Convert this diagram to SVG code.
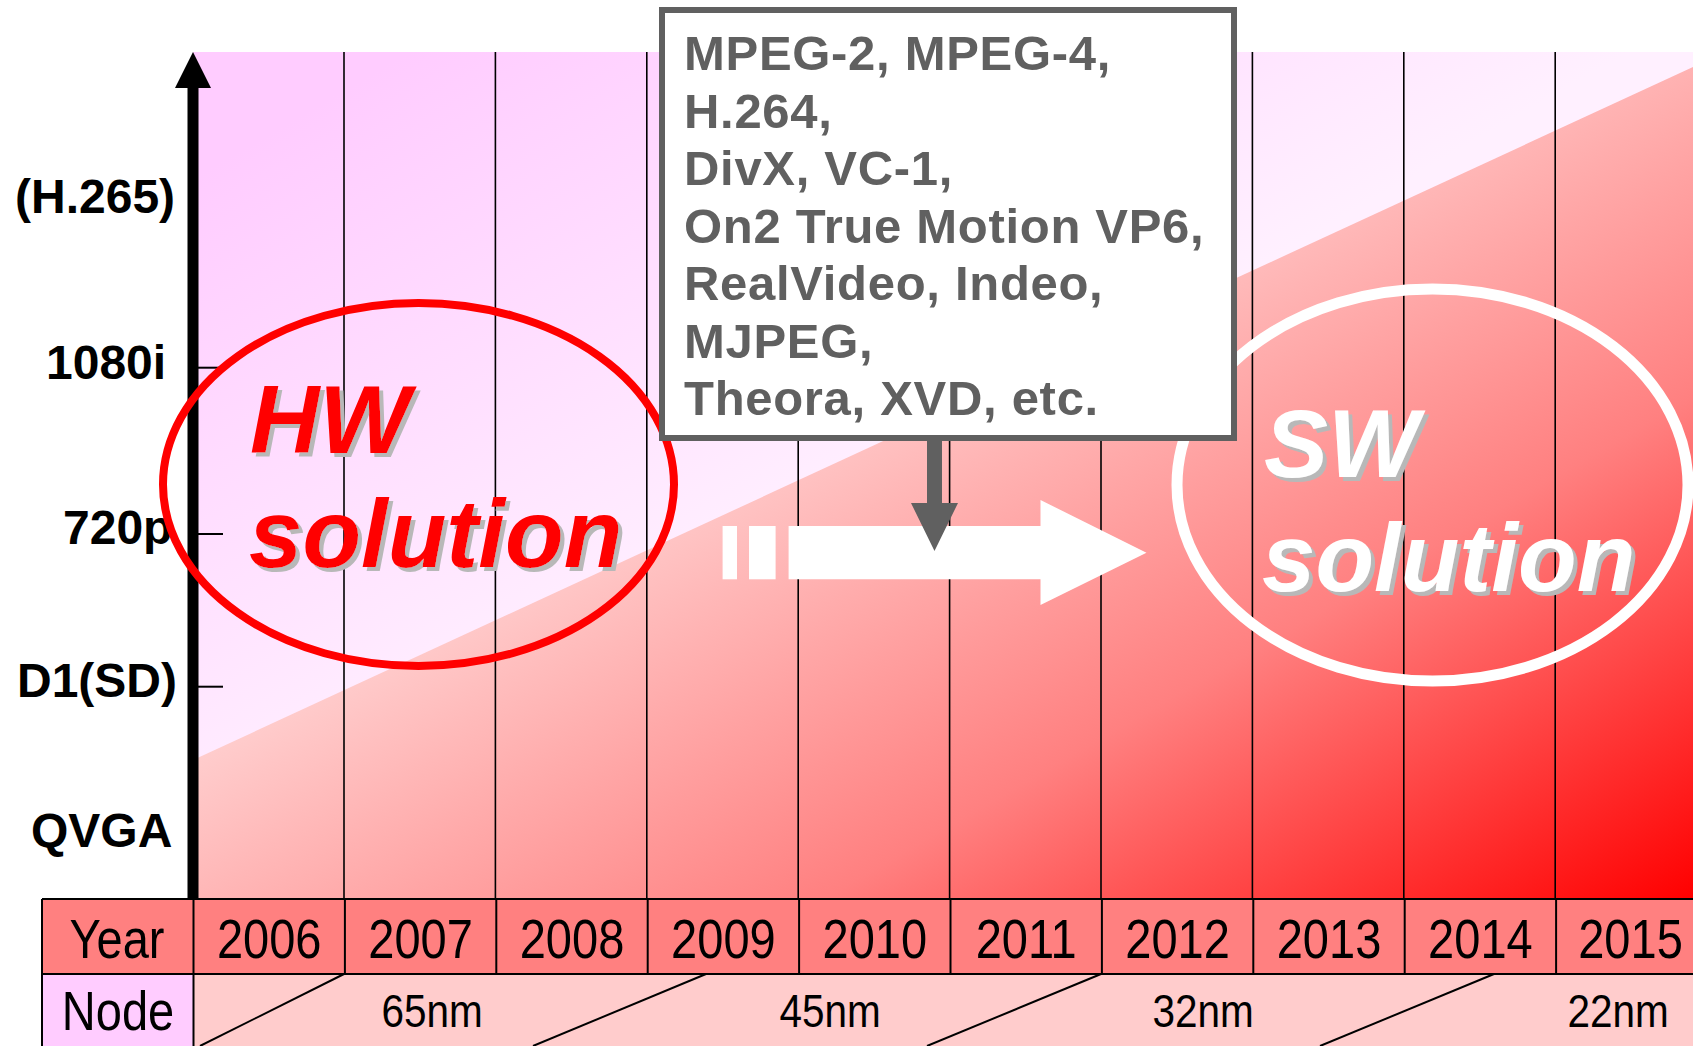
<svg xmlns="http://www.w3.org/2000/svg" width="1693" height="1046" viewBox="0 0 1693 1046">
  <defs>
    <!-- red field, darkest at the bottom-right corner -->
    <linearGradient id="redGrad" gradientUnits="userSpaceOnUse" x1="199" y1="758" x2="633" y2="1510">
      <stop offset="0" stop-color="#ffcccc"/>
      <stop offset="0.5" stop-color="#ff8080"/>
      <stop offset="1" stop-color="#ff0000"/>
    </linearGradient>
    <!-- pink upper triangle -->
    <linearGradient id="pinkGrad" gradientUnits="userSpaceOnUse" x1="-54" y1="320" x2="251" y2="848">
      <stop offset="0" stop-color="#ffccff"/>
      <stop offset="1" stop-color="#fff0ff"/>
    </linearGradient>
    <!-- grey drop shadow behind the big italic captions -->
    <filter id="dropShadow" x="-5%" y="-10%" width="115%" height="130%">
      <feOffset in="SourceAlpha" dx="4" dy="4" result="off"/>
      <feFlood flood-color="#b8b8b8"/>
      <feComposite in2="off" operator="in" result="shadow"/>
      <feMerge>
        <feMergeNode in="shadow"/>
        <feMergeNode in="SourceGraphic"/>
      </feMerge>
    </filter>
    <style>
      .grid { stroke: #000; stroke-width: 1.6; }
      .tick { stroke: #000; stroke-width: 2; }
      .axis-label { font-family: "Liberation Sans", Arial, sans-serif; font-weight: bold; font-size: 48px; fill: #000; }
      .big { font-family: "Liberation Sans", Arial, sans-serif; font-weight: bold; font-style: italic; font-size: 96px; filter: url(#dropShadow); }
      .hw { fill: #ff0000; }
      .sw { fill: #ffffff; }
      .codec { font-family: "Liberation Sans", Arial, sans-serif; font-weight: bold; font-size: 49px; letter-spacing: 0.7px; fill: #606060; }
      .cell-line { stroke: #000; stroke-width: 2; fill: none; }
      .narrow { font-family: "Liberation Sans", Arial, sans-serif; font-size: 56px; fill: #000; text-anchor: middle; }
      .node-txt { font-family: "Liberation Sans", Arial, sans-serif; font-size: 46px; fill: #000; text-anchor: middle; }
    </style>
  </defs>

  <rect width="1693" height="1046" fill="#ffffff"/>

  <!-- chart background: red field with pink triangle above the diagonal -->
  <g id="chart-bg">
    <rect x="193" y="52" width="1500" height="846" fill="url(#redGrad)"/>
    <polygon points="193,52 1693,52 1693,67 193,760" fill="url(#pinkGrad)"/>
  </g>

  <!-- yearly grid lines -->
  <g id="grid">
    <line class="grid" x1="344" y1="52" x2="344" y2="898"/>
    <line class="grid" x1="495.4" y1="52" x2="495.4" y2="898"/>
    <line class="grid" x1="646.8" y1="52" x2="646.8" y2="898"/>
    <line class="grid" x1="798.2" y1="52" x2="798.2" y2="898"/>
    <line class="grid" x1="949.6" y1="52" x2="949.6" y2="898"/>
    <line class="grid" x1="1101" y1="52" x2="1101" y2="898"/>
    <line class="grid" x1="1252.4" y1="52" x2="1252.4" y2="898"/>
    <line class="grid" x1="1403.8" y1="52" x2="1403.8" y2="898"/>
    <line class="grid" x1="1555.2" y1="52" x2="1555.2" y2="898"/>
  </g>

  <!-- vertical resolution axis -->
  <g id="axis">
    <rect x="187.5" y="86" width="11" height="813" fill="#000"/>
    <polygon points="193,52 211,88 175,88" fill="#000"/>
    <line class="tick" x1="198" y1="367.7" x2="223" y2="367.7"/>
    <line class="tick" x1="198" y1="534" x2="223" y2="534"/>
    <line class="tick" x1="198" y1="686.7" x2="223" y2="686.7"/>
    <text class="axis-label" x="15" y="213">(H.265)</text>
    <text class="axis-label" x="46" y="379">1080i</text>
    <text class="axis-label" x="63" y="544">720p</text>
    <text class="axis-label" x="17" y="697">D1(SD)</text>
    <text class="axis-label" x="31" y="847">QVGA</text>
  </g>

  <!-- hardware solution bubble -->
  <g id="hw-solution">
    <ellipse cx="418.5" cy="484.5" rx="255.5" ry="181.5" fill="none" stroke="#ff0000" stroke-width="8"/>
    <text class="big hw" x="250" y="453">HW</text>
    <text class="big hw" x="249" y="567">solution</text>
  </g>

  <!-- software solution bubble -->
  <g id="sw-solution">
    <ellipse cx="1432.5" cy="485" rx="255.5" ry="196" fill="none" stroke="#ffffff" stroke-width="11"/>
    <text class="big sw" x="1264" y="477">SW</text>
    <text class="big sw" x="1262" y="591">solution</text>
  </g>

  <!-- wide white migration arrow -->
  <g id="migration-arrow" fill="#ffffff">
    <rect x="722.6" y="526" width="14.4" height="53.3"/>
    <rect x="749" y="526" width="26.6" height="53.3"/>
    <polygon points="788.6,526 1040.5,526 1040.5,500 1146.5,552.7 1040.5,605 1040.5,579.3 788.6,579.3"/>
  </g>

  <!-- codec list box -->
  <g id="codec-box">
    <rect x="662" y="10" width="572" height="428" fill="#ffffff" stroke="#606060" stroke-width="6"/>
    <text class="codec" x="684" y="70">MPEG-2, MPEG-4,</text>
    <text class="codec" x="684" y="127.5">H.264,</text>
    <text class="codec" x="684" y="185">DivX, VC-1,</text>
    <text class="codec" x="684" y="242.5">On2 True Motion VP6,</text>
    <text class="codec" x="684" y="300">RealVideo, Indeo,</text>
    <text class="codec" x="684" y="357.5">MJPEG,</text>
    <text class="codec" x="684" y="415">Theora, XVD, etc.</text>
  </g>

  <!-- connector from the codec box down to the migration arrow -->
  <g id="connectors">
    <polygon points="927,440 942,440 942,503 958,503 934.5,551 911,503 927,503" fill="#606060"/>
  </g>

  <!-- year / process-node table -->
  <g id="timeline-table">
    <rect x="42" y="899" width="151.5" height="75" fill="#ff8080"/>
    <rect x="193.5" y="899" width="1500" height="75" fill="#ff8080"/>
    <rect x="42" y="974" width="151.5" height="72" fill="#ffccff"/>
    <rect x="193.5" y="974" width="1500" height="72" fill="#ffcccc"/>

    <line class="cell-line" x1="42" y1="899" x2="1693" y2="899"/>
    <line class="cell-line" x1="42" y1="974" x2="1693" y2="974"/>
    <line class="cell-line" x1="42" y1="899" x2="42" y2="1046"/>
    <line class="cell-line" x1="193.5" y1="899" x2="193.5" y2="1046"/>
    <line class="cell-line" x1="344.9" y1="899" x2="344.9" y2="974"/>
    <line class="cell-line" x1="496.3" y1="899" x2="496.3" y2="974"/>
    <line class="cell-line" x1="647.7" y1="899" x2="647.7" y2="974"/>
    <line class="cell-line" x1="799.1" y1="899" x2="799.1" y2="974"/>
    <line class="cell-line" x1="950.5" y1="899" x2="950.5" y2="974"/>
    <line class="cell-line" x1="1101.9" y1="899" x2="1101.9" y2="974"/>
    <line class="cell-line" x1="1253.3" y1="899" x2="1253.3" y2="974"/>
    <line class="cell-line" x1="1404.7" y1="899" x2="1404.7" y2="974"/>
    <line class="cell-line" x1="1556.1" y1="899" x2="1556.1" y2="974"/>

    <line class="cell-line" x1="344" y1="974" x2="200" y2="1046"/>
    <line class="cell-line" x1="706" y1="974" x2="533" y2="1046"/>
    <line class="cell-line" x1="1101" y1="974" x2="927" y2="1046"/>
    <line class="cell-line" x1="1494" y1="974" x2="1320" y2="1046"/>

    <text class="narrow" transform="translate(117 958) scale(0.84 1)">Year</text>
    <text class="narrow" transform="translate(269.2 958) scale(0.84 1)">2006</text>
    <text class="narrow" transform="translate(420.6 958) scale(0.84 1)">2007</text>
    <text class="narrow" transform="translate(572 958) scale(0.84 1)">2008</text>
    <text class="narrow" transform="translate(723.4 958) scale(0.84 1)">2009</text>
    <text class="narrow" transform="translate(874.8 958) scale(0.84 1)">2010</text>
    <text class="narrow" transform="translate(1026.2 958) scale(0.84 1)">2011</text>
    <text class="narrow" transform="translate(1177.6 958) scale(0.84 1)">2012</text>
    <text class="narrow" transform="translate(1329 958) scale(0.84 1)">2013</text>
    <text class="narrow" transform="translate(1480.4 958) scale(0.84 1)">2014</text>
    <text class="narrow" transform="translate(1630.5 958) scale(0.84 1)">2015</text>

    <text class="narrow" transform="translate(118 1030) scale(0.84 1)">Node</text>
    <text class="node-txt" transform="translate(432 1027) scale(0.88 1)">65nm</text>
    <text class="node-txt" transform="translate(830 1027) scale(0.88 1)">45nm</text>
    <text class="node-txt" transform="translate(1203 1027) scale(0.88 1)">32nm</text>
    <text class="node-txt" transform="translate(1618 1027) scale(0.88 1)">22nm</text>
  </g>
</svg>
